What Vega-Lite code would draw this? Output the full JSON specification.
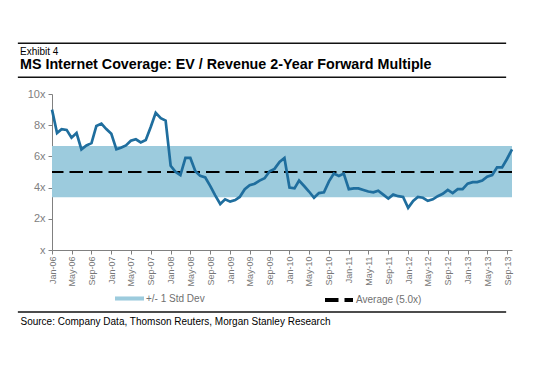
{
  "$schema": "https://vega.github.io/schema/vega-lite/v6.json",
  "width": 460,
  "height": 156,
  "autosize": {"type": "none"},
  "padding": {"left": 52, "top": 94, "right": 41, "bottom": 119},
  "background": "white",
  "config": {"font": "Liberation Sans", "view": {"stroke": null}, "axis": {"labelOverlap": false, "labelFlush": false}},
  "title": {
    "text": "Exhibit 4",
    "subtitle": "MS Internet Coverage: EV / Revenue 2-Year Forward Multiple",
    "anchor": "start",
    "frame": "group",
    "dx": -32,
    "offset": -30,
    "fontSize": 10,
    "fontWeight": "normal",
    "color": "black",
    "subtitleFontSize": 14.3,
    "subtitleFontWeight": "bold",
    "subtitleColor": "black",
    "subtitlePadding": 1.5
  },
  "datasets": {
    "series": [
      {"date": "2006-01-01", "v": 9.0}, {"date": "2006-02-01", "v": 7.5}, {"date": "2006-03-01", "v": 7.75}, {"date": "2006-04-01", "v": 7.7},
      {"date": "2006-05-01", "v": 7.2}, {"date": "2006-06-01", "v": 7.5}, {"date": "2006-07-01", "v": 6.45}, {"date": "2006-08-01", "v": 6.7},
      {"date": "2006-09-01", "v": 6.85}, {"date": "2006-10-01", "v": 7.95}, {"date": "2006-11-01", "v": 8.1}, {"date": "2006-12-01", "v": 7.75},
      {"date": "2007-01-01", "v": 7.45}, {"date": "2007-02-01", "v": 6.45}, {"date": "2007-03-01", "v": 6.55}, {"date": "2007-04-01", "v": 6.7},
      {"date": "2007-05-01", "v": 7.0}, {"date": "2007-06-01", "v": 7.1}, {"date": "2007-07-01", "v": 6.9}, {"date": "2007-08-01", "v": 7.05},
      {"date": "2007-09-01", "v": 7.9}, {"date": "2007-10-01", "v": 8.8}, {"date": "2007-11-01", "v": 8.45}, {"date": "2007-12-01", "v": 8.3},
      {"date": "2008-01-01", "v": 5.4}, {"date": "2008-02-01", "v": 5.0}, {"date": "2008-03-01", "v": 4.8}, {"date": "2008-04-01", "v": 5.9},
      {"date": "2008-05-01", "v": 5.9}, {"date": "2008-06-01", "v": 5.05}, {"date": "2008-07-01", "v": 4.75}, {"date": "2008-08-01", "v": 4.65},
      {"date": "2008-09-01", "v": 4.1}, {"date": "2008-10-01", "v": 3.5}, {"date": "2008-11-01", "v": 2.95}, {"date": "2008-12-01", "v": 3.25},
      {"date": "2009-01-01", "v": 3.1}, {"date": "2009-02-01", "v": 3.2}, {"date": "2009-03-01", "v": 3.4}, {"date": "2009-04-01", "v": 3.9},
      {"date": "2009-05-01", "v": 4.15}, {"date": "2009-06-01", "v": 4.25}, {"date": "2009-07-01", "v": 4.45}, {"date": "2009-08-01", "v": 4.6},
      {"date": "2009-09-01", "v": 5.05}, {"date": "2009-10-01", "v": 5.2}, {"date": "2009-11-01", "v": 5.65}, {"date": "2009-12-01", "v": 5.9},
      {"date": "2010-01-01", "v": 4.0}, {"date": "2010-02-01", "v": 3.95}, {"date": "2010-03-01", "v": 4.45}, {"date": "2010-04-01", "v": 4.1},
      {"date": "2010-05-01", "v": 3.75}, {"date": "2010-06-01", "v": 3.35}, {"date": "2010-07-01", "v": 3.65}, {"date": "2010-08-01", "v": 3.7},
      {"date": "2010-09-01", "v": 4.4}, {"date": "2010-10-01", "v": 4.9}, {"date": "2010-11-01", "v": 4.75}, {"date": "2010-12-01", "v": 4.9},
      {"date": "2011-01-01", "v": 3.9}, {"date": "2011-02-01", "v": 3.95}, {"date": "2011-03-01", "v": 3.95}, {"date": "2011-04-01", "v": 3.85},
      {"date": "2011-05-01", "v": 3.75}, {"date": "2011-06-01", "v": 3.7}, {"date": "2011-07-01", "v": 3.8}, {"date": "2011-08-01", "v": 3.55},
      {"date": "2011-09-01", "v": 3.3}, {"date": "2011-10-01", "v": 3.55}, {"date": "2011-11-01", "v": 3.45}, {"date": "2011-12-01", "v": 3.4},
      {"date": "2012-01-01", "v": 2.7}, {"date": "2012-02-01", "v": 3.15}, {"date": "2012-03-01", "v": 3.4}, {"date": "2012-04-01", "v": 3.35},
      {"date": "2012-05-01", "v": 3.15}, {"date": "2012-06-01", "v": 3.25}, {"date": "2012-07-01", "v": 3.45}, {"date": "2012-08-01", "v": 3.6},
      {"date": "2012-09-01", "v": 3.85}, {"date": "2012-10-01", "v": 3.65}, {"date": "2012-11-01", "v": 3.9}, {"date": "2012-12-01", "v": 3.9},
      {"date": "2013-01-01", "v": 4.25}, {"date": "2013-02-01", "v": 4.35}, {"date": "2013-03-01", "v": 4.35}, {"date": "2013-04-01", "v": 4.45},
      {"date": "2013-05-01", "v": 4.7}, {"date": "2013-06-01", "v": 4.8}, {"date": "2013-07-01", "v": 5.3}, {"date": "2013-08-01", "v": 5.3},
      {"date": "2013-09-01", "v": 5.85}, {"date": "2013-10-01", "v": 6.45}
    ],
    "band": [{"label": "+/- 1 Std Dev", "lo": 3.38, "hi": 6.67}],
    "avg": [{"label": "Average (5.0x)", "avg": 5.0}]
  },
  "layer": [
    {
      "data": {"name": "band"},
      "mark": {"type": "rect"},
      "encoding": {
        "x": {"datum": {"year": 2006, "month": 1, "date": 1, "utc": true}, "type": "temporal"},
        "x2": {"datum": {"year": 2013, "month": 10, "date": 1, "utc": true}},
        "y": {"field": "lo", "type": "quantitative"},
        "y2": {"field": "hi"},
        "fill": {
          "field": "label",
          "type": "nominal",
          "scale": {"range": ["#9ccbdd"]},
          "legend": {
            "orient": "none",
            "legendX": 63,
            "legendY": 190,
            "title": null,
            "symbolType": "M-1,-0.14L1,-0.14L1,0.14L-1,0.14Z",
            "symbolSize": 841,
            "symbolStrokeWidth": 0,
            "symbolOpacity": 1,
            "labelFontSize": 10,
            "labelColor": "#707070",
            "labelOffset": 2
          }
        }
      }
    },
    {
      "data": {"name": "avg"},
      "mark": {"type": "rule", "color": "black", "strokeWidth": 2},
      "encoding": {
        "y": {"field": "avg", "type": "quantitative"},
        "strokeDash": {
          "field": "label",
          "type": "nominal",
          "scale": {"range": [[13.5, 6]]},
          "legend": {
            "orient": "none",
            "legendX": 271,
            "legendY": 190,
            "title": null,
            "symbolType": "stroke",
            "symbolSize": 784,
            "symbolStrokeWidth": 4,
            "symbolStrokeColor": "black",
            "labelFontSize": 10,
            "labelColor": "#707070",
            "labelOffset": 1
          }
        }
      }
    },
    {
      "data": {"name": "series"},
      "mark": {"type": "line", "color": "#1f6e9e", "strokeWidth": 2.7},
      "encoding": {
        "x": {
          "field": "date",
          "type": "temporal",
          "scale": {
            "type": "utc",
            "domain": [
              {"year": 2006, "month": 1, "date": 1, "utc": true},
              {"year": 2013, "month": 10, "date": 1, "utc": true}
            ]
          },
          "axis": {
            "values": [
              {"year": 2006, "month": 1, "date": 1, "utc": true}, {"year": 2006, "month": 5, "date": 1, "utc": true}, {"year": 2006, "month": 9, "date": 1, "utc": true},
              {"year": 2007, "month": 1, "date": 1, "utc": true}, {"year": 2007, "month": 5, "date": 1, "utc": true}, {"year": 2007, "month": 9, "date": 1, "utc": true},
              {"year": 2008, "month": 1, "date": 1, "utc": true}, {"year": 2008, "month": 5, "date": 1, "utc": true}, {"year": 2008, "month": 9, "date": 1, "utc": true},
              {"year": 2009, "month": 1, "date": 1, "utc": true}, {"year": 2009, "month": 5, "date": 1, "utc": true}, {"year": 2009, "month": 9, "date": 1, "utc": true},
              {"year": 2010, "month": 1, "date": 1, "utc": true}, {"year": 2010, "month": 5, "date": 1, "utc": true}, {"year": 2010, "month": 9, "date": 1, "utc": true},
              {"year": 2011, "month": 1, "date": 1, "utc": true}, {"year": 2011, "month": 5, "date": 1, "utc": true}, {"year": 2011, "month": 9, "date": 1, "utc": true},
              {"year": 2012, "month": 1, "date": 1, "utc": true}, {"year": 2012, "month": 5, "date": 1, "utc": true}, {"year": 2012, "month": 9, "date": 1, "utc": true},
              {"year": 2013, "month": 1, "date": 1, "utc": true}, {"year": 2013, "month": 5, "date": 1, "utc": true}, {"year": 2013, "month": 9, "date": 1, "utc": true}
            ],
            "tickCount": 50,
            "format": "%b-%y",
            "labelAngle": -90,
            "labelFontSize": 9,
            "labelColor": "#777777",
            "labelPadding": 2,
            "labelFlush": false,
            "labelOverlap": false,
            "tickSize": 4,
            "tickColor": "#808080",
            "domainColor": "#808080",
            "grid": false,
            "title": "Source: Company Data, Thomson Reuters, Morgan Stanley Research",
            "titleX": -32,
            "titleY": 74,
            "titleAlign": "left",
            "titleAnchor": "start",
            "titleBaseline": "alphabetic",
            "titleFontSize": 10,
            "titleFontWeight": "normal",
            "titleColor": "black"
          }
        },
        "y": {
          "field": "v",
          "type": "quantitative",
          "scale": {"domain": [0, 10]},
          "axis": {
            "values": [0, 2, 4, 6, 8, 10],
            "tickCount": 20,
            "labelExpr": "datum.value == 0 ? 'x' : datum.value + 'x'",
            "labelOverlap": false,
            "title": null,
            "grid": false,
            "domainColor": "#808080",
            "tickColor": "#808080",
            "tickSize": 4,
            "labelColor": "#808080",
            "labelFontSize": 11,
            "labelPadding": 3
          }
        }
      }
    },
    {
      "data": {"values": [{}]},
      "mark": {"type": "rule", "color": "#111111", "strokeWidth": 1.5},
      "encoding": {
        "x": {"datum": {"year": 2005, "month": 6, "date": 5, "utc": true}, "type": "temporal"},
        "x2": {"datum": {"year": 2013, "month": 8, "date": 26, "utc": true}},
        "y": {"datum": 13.25, "type": "quantitative"}
      }
    },
    {
      "data": {"values": [{}]},
      "mark": {"type": "rule", "color": "#111111", "strokeWidth": 1.5},
      "encoding": {
        "x": {"datum": {"year": 2005, "month": 6, "date": 5, "utc": true}, "type": "temporal"},
        "x2": {"datum": {"year": 2013, "month": 8, "date": 26, "utc": true}},
        "y": {"datum": 11.07, "type": "quantitative"}
      }
    },
    {
      "data": {"values": [{}]},
      "mark": {"type": "rule", "color": "#111111", "strokeWidth": 1.5},
      "encoding": {
        "x": {"datum": {"year": 2005, "month": 6, "date": 5, "utc": true}, "type": "temporal"},
        "x2": {"datum": {"year": 2013, "month": 8, "date": 26, "utc": true}},
        "y": {"datum": -3.97, "type": "quantitative"}
      }
    }
  ]
}
